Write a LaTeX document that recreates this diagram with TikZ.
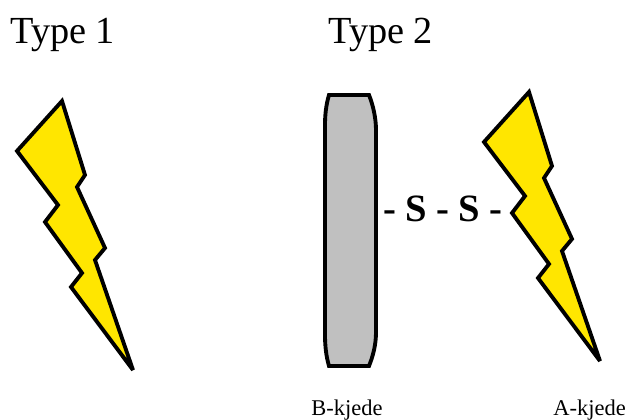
\documentclass[tikz,border=0pt]{standalone}
\usepackage{fontspec}
\setmainfont{Liberation Serif}
\definecolor{boltyellow}{RGB}{255,230,0}
\definecolor{chaingrey}{RGB}{192,192,192}
\tikzset{
  titlelab/.style={anchor=base west,inner sep=0pt,font=\fontsize{21.8}{26}\selectfont},
  chainlab/.style={anchor=base west,inner sep=0pt,font=\fontsize{12.8}{15}\selectfont},
  bridgelab/.style={anchor=base,inner sep=0pt,font=\bfseries\fontsize{22}{26}\selectfont},
  outline/.style={draw=black,line width=2.2pt,line join=miter,miter limit=3},
  bolt/.pic={
    \draw[outline,fill=boltyellow] (62,101) -- (85,175) -- (77,187) -- (105,248) -- (95,260)
      -- (133,370) -- (71,287) -- (82,273) -- (45,222) -- (58,205) -- (17,151) -- cycle;
  }
}
\begin{document}
\begin{tikzpicture}[x=0.02cm,y=-0.02cm]
  \useasboundingbox (0,0) rectangle (625,419);
  % titles
  \node[titlelab] (type1) at (10,43) {Type 1};
  \node[titlelab] (type2) at (328,43) {Type 2};
  % bolts
  \pic at (0,0) {bolt};
  \pic at (467,-9) {bolt};
  % B chain
  \draw[outline,fill=chaingrey] (329,95) -- (369,95) .. controls (373,105) and (376,118) .. (376,130)
    -- (376,332) .. controls (376,345) and (373,356) .. (369,366) -- (329,366)
    .. controls (326,356) and (325,345) .. (325,335) -- (325,125) .. controls (325,115) and (326,105) .. (329,95) -- cycle;
  % bridge
  \node[bridgelab] (bridge) at (443,221) {-\hspace{5.2pt}S\hspace{5.2pt}-\hspace{5.2pt}S\hspace{5.2pt}-};
  % chain labels
  \node[chainlab] (bchain) at (311,415) {B-kjede};
  \node[chainlab] (achain) at (553,415) {A-kjede};
\end{tikzpicture}
\end{document}
